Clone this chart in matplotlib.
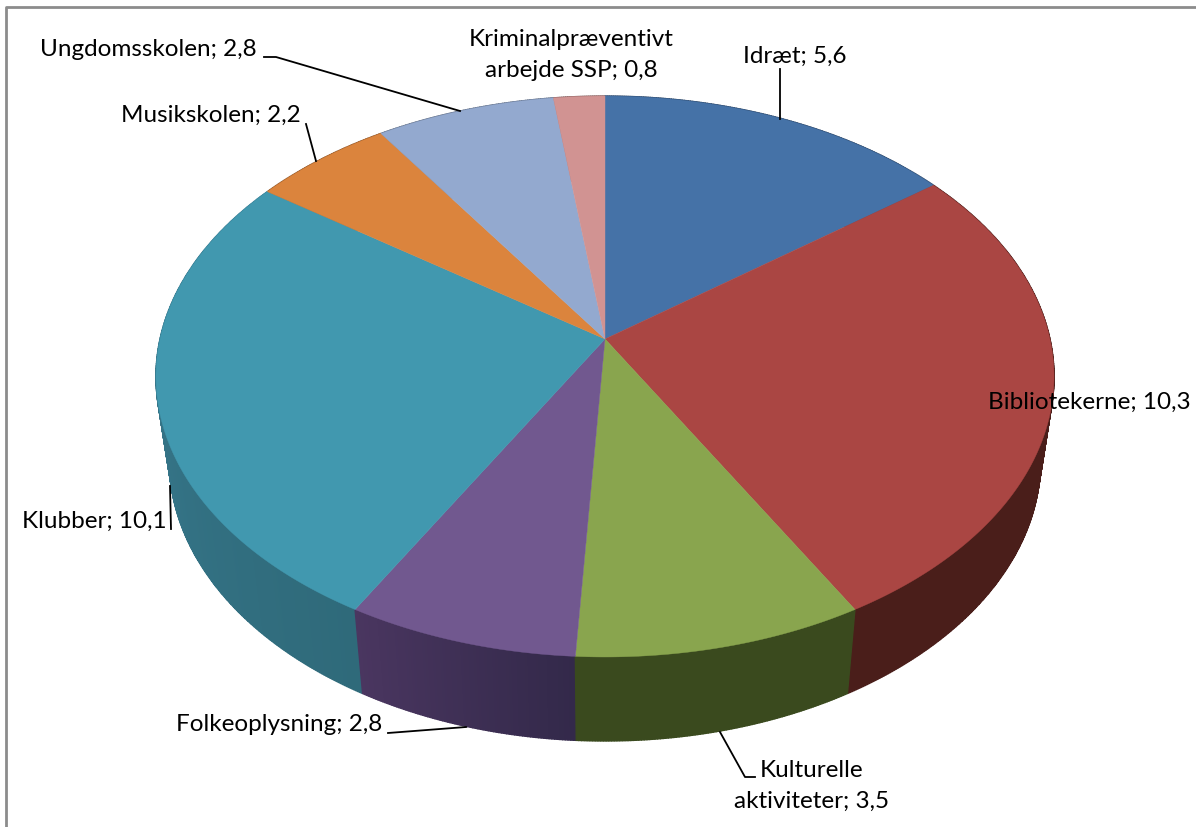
import numpy as np
import matplotlib
matplotlib.use('Agg')
import matplotlib.pyplot as plt

categories = ['Idræt', 'Bibliotekerne', 'Kulturelle\naktiviteter', 'Folkeoplysning',
              'Klubber', 'Musikskolen', 'Ungdomsskolen', 'Kriminalpræventivt\narbejde SSP']
values = [5.6, 10.3, 3.5, 2.8, 10.1, 2.2, 2.8, 0.8]
value_labels = ['5,6', '10,3', '3,5', '2,8', '10,1', '2,2', '2,8', '0,8']

top_colors = ['#4572A7', '#AA4643', '#89A54E', '#71588F', '#4198AF', '#DB843D', '#93A9CF', '#D19392']
side_left = ['#2a4465', '#4a1e1a', '#3a4a1e', '#33294a', '#2f6a7a', '#8a5226', '#5c6a82', '#825b5a']
side_right = ['#2a4465', '#4a1e1a', '#3a4a1e', '#4a3660', '#3b7f95', '#8a5226', '#5c6a82', '#825b5a']

# label centre (px), alignment and leader line
label_pos = [(743, 56, 'left'), (988, 402, 'left'), (812, 786, 'center'), (176, 725, 'left'),
             (22, 521, 'left'), (121, 115, 'left'), (40, 50, 'left'), (571, 55, 'center')]
leaders = [[(780, 70), (780, 120)], None, [(720, 733), (745, 778), (755, 778)],
           [(388, 734), (466, 728)], [(170, 487), (171, 530)], [(306, 125), (316, 162)],
           [(264, 58), (276, 58), (460, 112)], None]

cx, cy = 605, 340
kx, ky, persp = 445, 230, -0.1337
depth, shrink = 84, 0.97


def project(theta):
    # theta clockwise from 12 o'clock, perspective view of the disc
    u, v = np.sin(theta), -np.cos(theta)
    w = 1 + persp * v
    return cx + kx * u / w, (cy + ky * v) / w


def lower(x, y):
    return cx + (x - cx) * shrink, y + depth


fig = plt.figure(figsize=(11.96, 8.28), dpi=100)
ax = fig.add_axes([0, 0, 1, 1])
ax.set_xlim(0, 1196)
ax.set_ylim(828, 0)
ax.axis('off')

plt.rcParams['font.family'] = ['Lato', 'DejaVu Sans']

edges = np.cumsum([0] + values) / sum(values) * 2 * np.pi

# side wall, back to front
quads = []
for i in range(len(values)):
    th = np.linspace(edges[i], edges[i + 1], int(values[i] * 30) + 2)
    c0 = np.array(matplotlib.colors.to_rgb(side_left[i]))
    c1 = np.array(matplotlib.colors.to_rgb(side_right[i]))
    for j in range(len(th) - 1):
        t = j / max(len(th) - 2, 1)
        quads.append((th[j], th[j + 1], c0 + (c1 - c0) * t))
quads.sort(key=lambda q: -np.cos((q[0] + q[1]) / 2))
for a, b, col in quads:
    xa, ya = project(a)
    xb, yb = project(b)
    xa2, ya2 = lower(xa, ya)
    xb2, yb2 = lower(xb, yb)
    ax.fill([xa, xb, xb2, xa2], [ya, yb, yb2, ya2], color=col, lw=1, zorder=2)

# top surface
for i in range(len(values)):
    th = np.linspace(edges[i], edges[i + 1], 200)
    x, y = project(th)
    ax.fill(np.r_[cx, x], np.r_[cy, y], color=top_colors[i], lw=0.3, zorder=3)

# frame
ax.plot([6, 6, 1196], [828, 8, 8], color='#8c8c8c', lw=2, zorder=1)

for i, (px, py, ha) in enumerate(label_pos):
    ax.text(px, py, categories[i] + '; ' + value_labels[i], ha=ha, va='center',
            fontsize=17.5, color='black', zorder=6, linespacing=1.6,
            multialignment='center')
    if leaders[i] is not None:
        xs, ys = zip(*leaders[i])
        ax.plot(xs, ys, color='black', lw=1.3, zorder=5)

fig.savefig('out.png', dpi=100)
